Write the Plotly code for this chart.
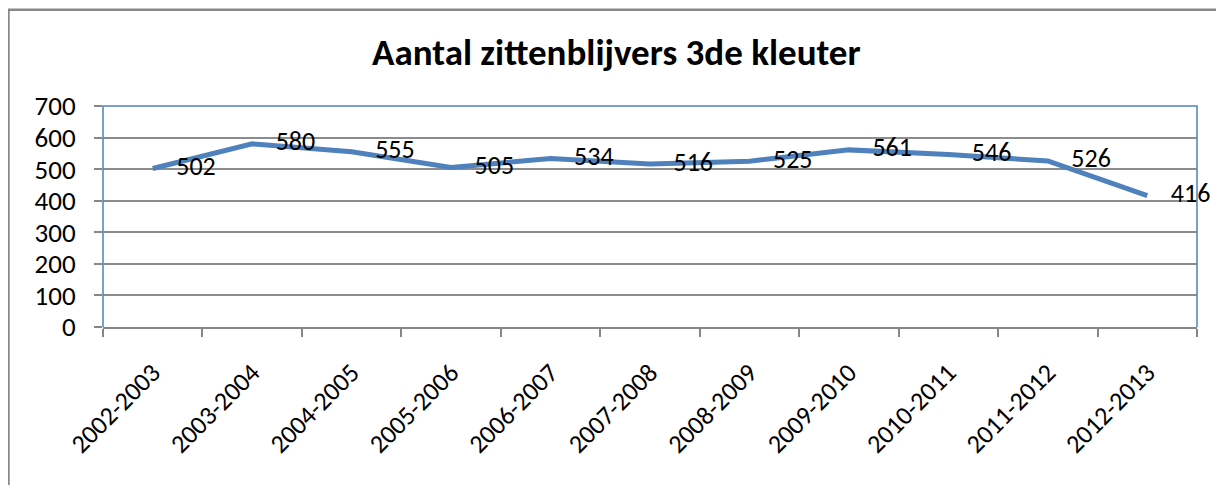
import plotly.graph_objects as go

years = ["2002-2003", "2003-2004", "2004-2005", "2005-2006", "2006-2007", "2007-2008",
         "2008-2009", "2009-2010", "2010-2011", "2011-2012", "2012-2013"]
zittenblijvers = [502, 580, 555, 505, 534, 516, 525, 561, 546, 526, 416]

font_family = "Calibri, Carlito, Lato, sans-serif"
blue = "#4F81BD"

fig = go.Figure()
fig.add_trace(go.Scatter(x=years, y=zittenblijvers,
                         mode="lines+text",
                         line=dict(color=blue, width=5),
                         text=["    " + str(v) for v in zittenblijvers],
                         textposition="middle right",
                         textfont=dict(family=font_family, size=26, color="black"),
                         cliponaxis=False,
                         hoverinfo="x+y"))

fig.update_xaxes(type="category", range=[-0.5, 10.5], automargin=False,
                 showgrid=False, showline=True, linecolor="#868686", linewidth=2,
                 ticks="outside", tickson="boundaries", ticklen=8, tickwidth=2, tickcolor="#868686",
                 ticklabelstandoff=18,
                 tickangle=-45, tickfont=dict(family=font_family, size=26, color="black"))
fig.update_yaxes(range=[0, 700], dtick=100, automargin=False,
                 showgrid=True, gridcolor="#8C8C8C", gridwidth=2,
                 zeroline=False, showline=False,
                 ticks="outside", ticklen=8, tickwidth=2, tickcolor="#868686",
                 ticklabelstandoff=13,
                 tickfont=dict(family=font_family, size=27, color="black"))

# plot area border (left, top, right) and outer chart border
fig.add_shape(type="path", xref="paper", yref="paper", path="M 0 0 L 0 1 L 1 1 L 1 0",
              line=dict(color=blue, width=1.5))
fig.add_shape(type="rect", xref="paper", yref="paper", x0=-0.0864, x1=1.1, y0=-1.0, y1=1.435,
              line=dict(color="#888888", width=2.5), layer="below")

fig.update_layout(width=1224, height=485,
                  margin=dict(l=95, r=35, t=98, b=166),
                  paper_bgcolor="white", plot_bgcolor="white",
                  showlegend=False,
                  title=dict(text="<b>Aantal zittenblijvers 3de kleuter</b>",
                             x=0.497, xanchor="center", y=0.909, yanchor="middle",
                             font=dict(family=font_family, size=37, color="black")))

fig.write_html("out.html")
